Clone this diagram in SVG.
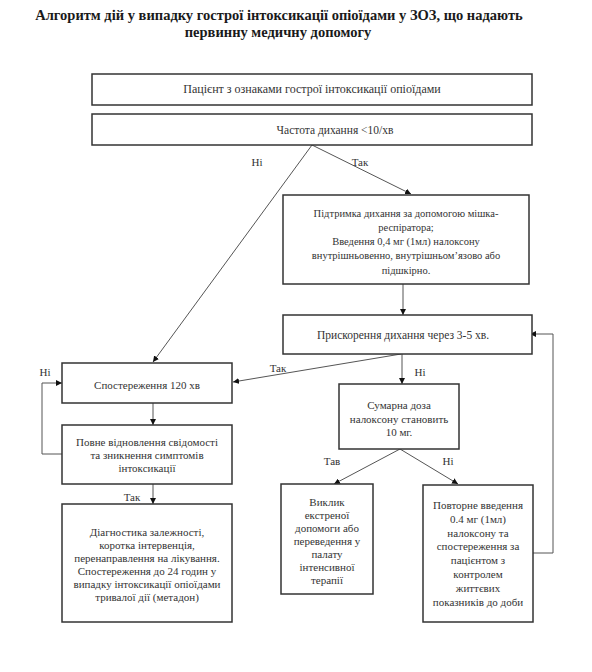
<svg xmlns="http://www.w3.org/2000/svg" width="592" height="672" viewBox="0 0 592 672">
<defs>
<marker id="ah" viewBox="0 0 10 10" refX="10" refY="5" markerWidth="6" markerHeight="6" orient="auto" markerUnits="userSpaceOnUse">
<path d="M0,0 L10,5 L0,10 z" fill="#111"/>
</marker>
<style>
.box{fill:#fff;stroke:#333;stroke-width:1.5}
.t{font-family:'Liberation Serif','Times New Roman',serif;font-size:11px;fill:#333;text-anchor:middle}
.t12{font-size:12px}
.t115{font-size:11.5px}
.t105{font-size:10.5px}
.lb{font-family:'Liberation Serif','Times New Roman',serif;font-size:11px;fill:#333;text-anchor:middle}
.title{font-family:'Liberation Serif','Times New Roman',serif;font-size:14.5px;font-weight:bold;fill:#1a1a1a;text-anchor:middle}
.ca{fill:none;stroke:#555;stroke-width:1;marker-end:url(#ah)}
</style>
</defs>
<rect width="592" height="672" fill="#fff"/>
<g id="title">
<text class="title" x="279" y="20">Алгоритм дій у випадку гострої інтоксикації опіоїдами у ЗОЗ, що надають</text>
<text class="title" x="278" y="37">первинну медичну допомогу</text>
</g>
<g id="connectors">
<polyline class="ca" points="312,145 153,362"/>
<polyline class="ca" points="312,145 411,194"/>
<polyline class="ca" points="403,284 403,315"/>
<polyline class="ca" points="401,354 233,382"/>
<polyline class="ca" points="402,354 402,384"/>
<polyline class="ca" points="153,403 153,425"/>
<polyline class="ca" points="62,454 42,454 42,383 62,383"/>
<polyline class="ca" points="153,484 153,504"/>
<polyline class="ca" points="400,449 334,484"/>
<polyline class="ca" points="400,449 458,484"/>
<polyline class="ca" points="533,553 553,553 553,334 530,334"/>
<text class="lb" x="257" y="166">Ні</text>
<text class="lb" x="360" y="166">Так</text>
<text class="lb" x="278" y="372">Так</text>
<text class="lb" x="420" y="376">Ні</text>
<text class="lb" x="45" y="376">Ні</text>
<text class="lb" x="332" y="465">Тав</text>
<text class="lb" x="448" y="465">Ні</text>
<text class="lb" x="132" y="501">Так</text>
</g>
<g id="n1">
<rect class="box" x="92" y="74" width="440" height="31"/>
<text class="t t12" x="312" y="93">Пацієнт з ознаками гострої інтоксикації опіоїдами</text>
</g>
<g id="n2">
<rect class="box" x="92" y="114" width="440" height="31"/>
<text class="t t115" x="335" y="134">Частота дихання &lt;10/хв</text>
</g>
<g id="n3">
<rect class="box" x="283" y="195" width="246" height="89"/>
<text class="t t105" x="406" y="217">Підтримка дихання за допомогою мішка-</text>
<text class="t t105" x="406" y="231">респіратора;</text>
<text class="t t105" x="406" y="245">Введення 0,4 мг (1мл) налоксону</text>
<text class="t t105" x="406" y="259">внутрішньовенно, внутрішньом’язово або</text>
<text class="t t105" x="406" y="274">підшкірно.</text>
</g>
<g id="n4">
<rect class="box" x="283" y="315" width="249" height="39"/>
<text class="t t115" x="403" y="339">Прискорення дихання через 3-5 хв.</text>
</g>
<g id="n5">
<rect class="box" x="62" y="363" width="170" height="40"/>
<text class="t" x="147" y="389">Спостереження 120 хв</text>
</g>
<g id="n6">
<rect class="box" x="339" y="384" width="120" height="65"/>
<text class="t" x="399" y="409">Сумарна доза</text>
<text class="t" x="399" y="423">налоксону становить</text>
<text class="t" x="399" y="436">10 мг.</text>
</g>
<g id="n7">
<rect class="box" x="62" y="425" width="170" height="59"/>
<text class="t" x="147" y="446">Повне відновлення свідомості</text>
<text class="t" x="147" y="459">та зникнення симптомів</text>
<text class="t" x="147" y="472">інтоксикації</text>
</g>
<g id="n8">
<rect class="box" x="62" y="504" width="170" height="118"/>
<text class="t" x="147" y="536">Діагностика залежності,</text>
<text class="t" x="147" y="549">коротка інтервенція,</text>
<text class="t" x="147" y="562">перенаправлення на лікування.</text>
<text class="t" x="147" y="575">Спостереження до 24 годин у</text>
<text class="t" x="147" y="588">випадку інтоксикації опіоїдами</text>
<text class="t" x="147" y="601">тривалої дії (метадон)</text>
</g>
<g id="n9">
<rect class="box" x="281" y="484" width="92" height="110"/>
<text class="t" x="327" y="506">Виклик</text>
<text class="t" x="327" y="519">екстреної</text>
<text class="t" x="327" y="532">допомоги або</text>
<text class="t" x="327" y="545">переведення у</text>
<text class="t" x="327" y="558">палату</text>
<text class="t" x="327" y="571">інтенсивної</text>
<text class="t" x="327" y="584">терапії</text>
</g>
<g id="n10">
<rect class="box" x="423" y="485" width="110" height="137"/>
<text class="t" x="478" y="509">Повторне введення</text>
<text class="t" x="478" y="523">0.4 мг (1мл)</text>
<text class="t" x="478" y="537">налоксону та</text>
<text class="t" x="478" y="550">спостереження за</text>
<text class="t" x="478" y="564">пацієнтом з</text>
<text class="t" x="478" y="578">контролем</text>
<text class="t" x="478" y="592">життєвих</text>
<text class="t" x="478" y="606">показників до доби</text>
</g>
</svg>
